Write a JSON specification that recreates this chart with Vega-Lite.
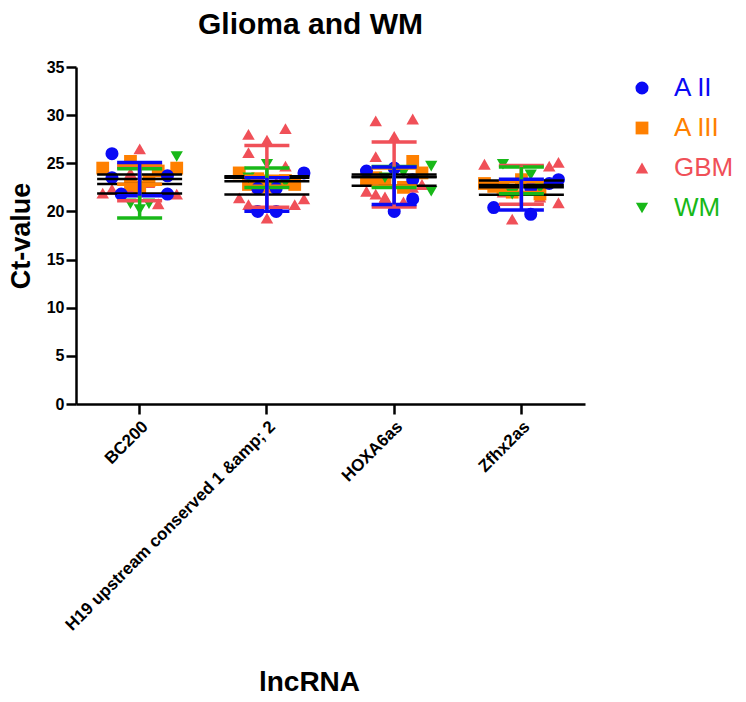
{
  "$schema": "https://vega.github.io/schema/vega-lite/v6.json",
  "width": 509,
  "height": 337,
  "autosize": {"type": "none"},
  "padding": {"left": 76, "top": 67, "right": 161, "bottom": 298},
  "background": "white",
  "config": {
    "view": {"stroke": null},
    "font": "Liberation Sans"
  },
  "title": {
    "text": "Glioma and WM",
    "fontSize": 30,
    "fontWeight": "bold",
    "font": "Liberation Sans",
    "color": "black",
    "anchor": "middle",
    "frame": "group",
    "dx": -20,
    "offset": 19
  },
  "data": {
    "values": [
      {"lnc": "BC200", "group": "GBM", "ct": 26.5, "slot": 4},
      {"lnc": "BC200", "group": "GBM", "ct": 21.9, "slot": 0},
      {"lnc": "BC200", "group": "GBM", "ct": 21.8, "slot": 8},
      {"lnc": "BC200", "group": "GBM", "ct": 20.8, "slot": 6},
      {"lnc": "BC200", "group": "GBM", "ct": 22.5, "slot": 3},
      {"lnc": "BC200", "group": "GBM", "ct": 23.0, "slot": 5},
      {"lnc": "BC200", "group": "GBM", "ct": 22.3, "slot": 1},
      {"lnc": "BC200", "group": "GBM", "ct": 24.0, "slot": 3},
      {"lnc": "H19 upstream conserved 1 &amp; 2", "group": "GBM", "ct": 28.0, "slot": 2},
      {"lnc": "H19 upstream conserved 1 &amp; 2", "group": "GBM", "ct": 28.6, "slot": 6},
      {"lnc": "H19 upstream conserved 1 &amp; 2", "group": "GBM", "ct": 27.4, "slot": 4},
      {"lnc": "H19 upstream conserved 1 &amp; 2", "group": "GBM", "ct": 26.1, "slot": 2},
      {"lnc": "H19 upstream conserved 1 &amp; 2", "group": "GBM", "ct": 24.7, "slot": 6},
      {"lnc": "H19 upstream conserved 1 &amp; 2", "group": "GBM", "ct": 21.4, "slot": 1},
      {"lnc": "H19 upstream conserved 1 &amp; 2", "group": "GBM", "ct": 20.7, "slot": 2},
      {"lnc": "H19 upstream conserved 1 &amp; 2", "group": "GBM", "ct": 21.3, "slot": 8},
      {"lnc": "H19 upstream conserved 1 &amp; 2", "group": "GBM", "ct": 20.7, "slot": 7},
      {"lnc": "H19 upstream conserved 1 &amp; 2", "group": "GBM", "ct": 19.3, "slot": 4},
      {"lnc": "H19 upstream conserved 1 &amp; 2", "group": "GBM", "ct": 22.5, "slot": 3},
      {"lnc": "H19 upstream conserved 1 &amp; 2", "group": "GBM", "ct": 23.0, "slot": 5},
      {"lnc": "HOXA6as", "group": "GBM", "ct": 29.4, "slot": 2},
      {"lnc": "HOXA6as", "group": "GBM", "ct": 29.6, "slot": 6},
      {"lnc": "HOXA6as", "group": "GBM", "ct": 27.8, "slot": 4},
      {"lnc": "HOXA6as", "group": "GBM", "ct": 25.7, "slot": 2},
      {"lnc": "HOXA6as", "group": "GBM", "ct": 22.1, "slot": 1},
      {"lnc": "HOXA6as", "group": "GBM", "ct": 21.8, "slot": 2},
      {"lnc": "HOXA6as", "group": "GBM", "ct": 21.4, "slot": 3},
      {"lnc": "HOXA6as", "group": "GBM", "ct": 20.3, "slot": 4},
      {"lnc": "HOXA6as", "group": "GBM", "ct": 21.0, "slot": 5},
      {"lnc": "HOXA6as", "group": "GBM", "ct": 22.8, "slot": 7},
      {"lnc": "HOXA6as", "group": "GBM", "ct": 22.5, "slot": 6},
      {"lnc": "HOXA6as", "group": "GBM", "ct": 21.5, "slot": 3},
      {"lnc": "Zfhx2as", "group": "GBM", "ct": 24.9, "slot": 0},
      {"lnc": "Zfhx2as", "group": "GBM", "ct": 25.1, "slot": 8},
      {"lnc": "Zfhx2as", "group": "GBM", "ct": 24.7, "slot": 7},
      {"lnc": "Zfhx2as", "group": "GBM", "ct": 20.9, "slot": 8},
      {"lnc": "Zfhx2as", "group": "GBM", "ct": 19.2, "slot": 3},
      {"lnc": "Zfhx2as", "group": "GBM", "ct": 22.0, "slot": 2},
      {"lnc": "Zfhx2as", "group": "GBM", "ct": 23.5, "slot": 4},
      {"lnc": "Zfhx2as", "group": "GBM", "ct": 21.5, "slot": 6},
      {"lnc": "Zfhx2as", "group": "GBM", "ct": 23.0, "slot": 5},
      {"lnc": "BC200", "group": "A III", "ct": 24.5, "slot": 0},
      {"lnc": "BC200", "group": "A III", "ct": 25.2, "slot": 3},
      {"lnc": "BC200", "group": "A III", "ct": 24.5, "slot": 8},
      {"lnc": "BC200", "group": "A III", "ct": 22.8, "slot": 3},
      {"lnc": "BC200", "group": "A III", "ct": 23.2, "slot": 5},
      {"lnc": "BC200", "group": "A III", "ct": 24.2, "slot": 6},
      {"lnc": "BC200", "group": "A III", "ct": 22.5, "slot": 4},
      {"lnc": "H19 upstream conserved 1 &amp; 2", "group": "A III", "ct": 24.0, "slot": 1},
      {"lnc": "H19 upstream conserved 1 &amp; 2", "group": "A III", "ct": 23.4, "slot": 3},
      {"lnc": "H19 upstream conserved 1 &amp; 2", "group": "A III", "ct": 22.8, "slot": 2},
      {"lnc": "H19 upstream conserved 1 &amp; 2", "group": "A III", "ct": 22.8, "slot": 7},
      {"lnc": "H19 upstream conserved 1 &amp; 2", "group": "A III", "ct": 22.6, "slot": 4},
      {"lnc": "H19 upstream conserved 1 &amp; 2", "group": "A III", "ct": 23.2, "slot": 6},
      {"lnc": "HOXA6as", "group": "A III", "ct": 25.2, "slot": 6},
      {"lnc": "HOXA6as", "group": "A III", "ct": 23.5, "slot": 2},
      {"lnc": "HOXA6as", "group": "A III", "ct": 23.0, "slot": 3},
      {"lnc": "HOXA6as", "group": "A III", "ct": 22.5, "slot": 5},
      {"lnc": "HOXA6as", "group": "A III", "ct": 24.0, "slot": 7},
      {"lnc": "HOXA6as", "group": "A III", "ct": 23.3, "slot": 1},
      {"lnc": "Zfhx2as", "group": "A III", "ct": 22.9, "slot": 0},
      {"lnc": "Zfhx2as", "group": "A III", "ct": 22.5, "slot": 2},
      {"lnc": "Zfhx2as", "group": "A III", "ct": 23.3, "slot": 4},
      {"lnc": "Zfhx2as", "group": "A III", "ct": 22.0, "slot": 3},
      {"lnc": "Zfhx2as", "group": "A III", "ct": 21.8, "slot": 6},
      {"lnc": "Zfhx2as", "group": "A III", "ct": 22.6, "slot": 1},
      {"lnc": "BC200", "group": "WM", "ct": 25.7, "slot": 8},
      {"lnc": "BC200", "group": "WM", "ct": 20.8, "slot": 3},
      {"lnc": "BC200", "group": "WM", "ct": 20.2, "slot": 4},
      {"lnc": "BC200", "group": "WM", "ct": 20.8, "slot": 5},
      {"lnc": "H19 upstream conserved 1 &amp; 2", "group": "WM", "ct": 24.9, "slot": 4},
      {"lnc": "H19 upstream conserved 1 &amp; 2", "group": "WM", "ct": 23.5, "slot": 2},
      {"lnc": "H19 upstream conserved 1 &amp; 2", "group": "WM", "ct": 23.0, "slot": 6},
      {"lnc": "H19 upstream conserved 1 &amp; 2", "group": "WM", "ct": 22.6, "slot": 5},
      {"lnc": "HOXA6as", "group": "WM", "ct": 24.7, "slot": 8},
      {"lnc": "HOXA6as", "group": "WM", "ct": 22.1, "slot": 8},
      {"lnc": "HOXA6as", "group": "WM", "ct": 23.5, "slot": 3},
      {"lnc": "HOXA6as", "group": "WM", "ct": 24.0, "slot": 5},
      {"lnc": "Zfhx2as", "group": "WM", "ct": 24.9, "slot": 2},
      {"lnc": "Zfhx2as", "group": "WM", "ct": 23.8, "slot": 5},
      {"lnc": "Zfhx2as", "group": "WM", "ct": 21.8, "slot": 3},
      {"lnc": "Zfhx2as", "group": "WM", "ct": 22.4, "slot": 6},
      {"lnc": "BC200", "group": "A II", "ct": 26.0, "slot": 1},
      {"lnc": "BC200", "group": "A II", "ct": 23.5, "slot": 1},
      {"lnc": "BC200", "group": "A II", "ct": 23.7, "slot": 7},
      {"lnc": "BC200", "group": "A II", "ct": 21.8, "slot": 2},
      {"lnc": "BC200", "group": "A II", "ct": 21.8, "slot": 7},
      {"lnc": "H19 upstream conserved 1 &amp; 2", "group": "A II", "ct": 24.0, "slot": 8},
      {"lnc": "H19 upstream conserved 1 &amp; 2", "group": "A II", "ct": 22.4, "slot": 3},
      {"lnc": "H19 upstream conserved 1 &amp; 2", "group": "A II", "ct": 22.4, "slot": 5},
      {"lnc": "H19 upstream conserved 1 &amp; 2", "group": "A II", "ct": 20.0, "slot": 3},
      {"lnc": "H19 upstream conserved 1 &amp; 2", "group": "A II", "ct": 20.0, "slot": 5},
      {"lnc": "HOXA6as", "group": "A II", "ct": 24.2, "slot": 1},
      {"lnc": "HOXA6as", "group": "A II", "ct": 24.5, "slot": 4},
      {"lnc": "HOXA6as", "group": "A II", "ct": 23.3, "slot": 6},
      {"lnc": "HOXA6as", "group": "A II", "ct": 21.3, "slot": 6},
      {"lnc": "HOXA6as", "group": "A II", "ct": 20.0, "slot": 4},
      {"lnc": "Zfhx2as", "group": "A II", "ct": 20.4, "slot": 1},
      {"lnc": "Zfhx2as", "group": "A II", "ct": 19.7, "slot": 5},
      {"lnc": "Zfhx2as", "group": "A II", "ct": 22.4, "slot": 5},
      {"lnc": "Zfhx2as", "group": "A II", "ct": 22.9, "slot": 7},
      {"lnc": "Zfhx2as", "group": "A II", "ct": 23.3, "slot": 8}
    ]
  },
  "encoding": {
    "x": {
      "field": "lnc",
      "type": "nominal",
      "sort": ["BC200", "H19 upstream conserved 1 &amp; 2", "HOXA6as", "Zfhx2as"],
      "scale": {"paddingInner": 0.42, "paddingOuter": 0.21},
      "axis": {
        "title": "lncRNA",
        "titleFont": "Liberation Sans",
        "titleFontSize": 28,
        "titleFontWeight": "bold",
        "titleColor": "black",
        "titleX": 233,
        "titleY": 264,
        "titleBaseline": "top",
        "titleAnchor": "middle",
        "labelAngle": -45,
        "labelFont": "Liberation Sans",
        "labelFontSize": 17,
        "labelFontWeight": "bold",
        "labelColor": "black",
        "labelLimit": 0,
        "labelPadding": 4,
        "labelAlign": "right",
        "labelBaseline": "top",
        "domainColor": "black",
        "domainWidth": 2.5,
        "tickColor": "black",
        "tickWidth": 2.5,
        "tickSize": 10,
        "grid": false
      }
    }
  },
  "layer": [
    {
      "mark": {"type": "point", "filled": true, "opacity": 1},
      "encoding": {
        "y": {
          "field": "ct",
          "type": "quantitative",
          "scale": {"domain": [0, 35], "nice": false},
          "axis": {
            "title": "Ct-value",
            "titleFont": "Liberation Sans",
            "titleFontSize": 27,
            "titleFontWeight": "bold",
            "titleColor": "black",
            "titlePadding": 11,
            "values": [0, 5, 10, 15, 20, 25, 30, 35],
            "labelFont": "Liberation Sans",
            "labelFontSize": 16,
            "labelFontWeight": "bold",
            "labelColor": "black",
            "labelPadding": 2,
            "domainColor": "black",
            "domainWidth": 2.5,
            "tickColor": "black",
            "tickWidth": 2.5,
            "tickSize": 10,
            "grid": false
          }
        },
        "xOffset": {"field": "slot", "type": "quantitative", "scale": {"domain": [0, 8], "range": [0, 74]}},
        "size": {
          "field": "group",
          "type": "nominal",
          "scale": {"domain": ["A II", "A III", "GBM", "WM"], "range": [170, 150, 230, 230]},
          "legend": null
        },
        "color": {
          "field": "group",
          "type": "nominal",
          "scale": {"domain": ["A II", "A III", "GBM", "WM"], "range": ["#0A0AF5", "#FF8000", "#F05058", "#18B818"]},
          "legend": {
            "title": null,
            "orient": "none",
            "legendX": 553,
            "legendY": 8,
            "symbolSize": 130,
            "labelFont": "Liberation Sans",
            "labelFontSize": 26,
            "labelOffset": 19,
            "rowPadding": 14,
            "symbolStrokeWidth": 0,
            "labelColor": {"expr": "scale('color', datum.value)"},
            "encode": {"labels": {"update": {"fill": {"signal": "scale('color', datum.value)"}}}}
          }
        },
        "shape": {
          "field": "group",
          "type": "nominal",
          "scale": {"domain": ["A II", "A III", "GBM", "WM"], "range": ["circle", "square", "triangle-up", "triangle-down"]},
          "legend": {
            "title": null,
            "orient": "none",
            "legendX": 553,
            "legendY": 8,
            "symbolSize": 130,
            "labelFont": "Liberation Sans",
            "labelFontSize": 26,
            "labelOffset": 19,
            "rowPadding": 14,
            "symbolStrokeWidth": 0,
            "labelColor": {"expr": "scale('color', datum.value)"},
            "encode": {"labels": {"update": {"fill": {"signal": "scale('color', datum.value)"}}}}
          }
        }
      }
    },
    {
      "mark": {"type": "tick", "color": "black", "size": 85, "thickness": 2.5},
      "encoding": {
        "y": {"aggregate": "mean", "field": "ct", "type": "quantitative", "title": "Ct-value"},
        "detail": {"field": "group", "type": "nominal"}
      }
    },
    {
      "mark": {"type": "errorbar", "extent": "stdev", "ticks": {"opacity": 1, "size": 45}, "rule": {"opacity": 1}, "size": 45, "thickness": 3.5},
      "encoding": {
        "y": {"field": "ct", "type": "quantitative", "title": "Ct-value"},
        "color": {"field": "group", "type": "nominal", "legend": null}
      }
    }
  ]
}
